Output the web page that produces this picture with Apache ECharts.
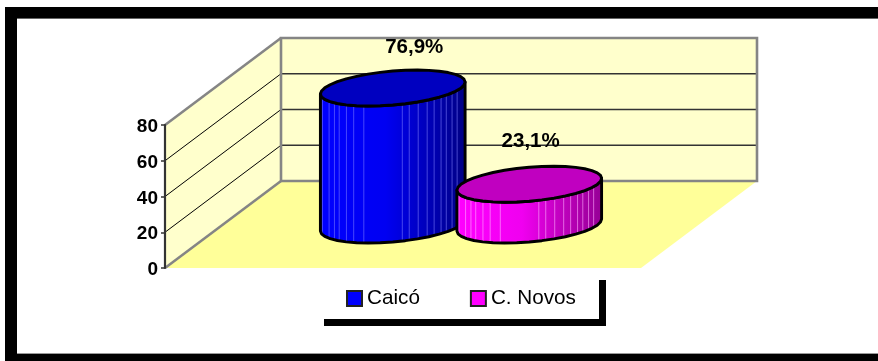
<!DOCTYPE html>
<html>
<head>
<meta charset="utf-8">
<style>html,body{margin:0;padding:0;background:#fff}#c{width:878px;height:361px}</style>
<script src="https://cdn.jsdelivr.net/npm/echarts@6/dist/echarts.min.js"></script>
</head>
<body>
<div id="c"></div>
<script>
var categories = ['Total'];
var seriesNames = ['Caicó', 'C. Novos'];
var caicoValues = [76.9];
var novosValues = [23.1];
var valueLabels = ['76,9%', '23,1%'];
var yTicks = [0, 20, 40, 60, 80];
var facetLines = [0.014,0.06,0.097,0.13,0.18,0.23,0.30,0.566,0.614,0.676,0.738,0.786,0.834,0.87,0.91,0.945];

var FONT = '"Liberation Sans", Arial, sans-serif';
var DX = 116, DY = -87;                // wall depth in pixels
var RX = 68.25, SHEAR = 24, RY = 18;   // cylinder cross-section
var looks = [
  {side: ['#0000FF','#0000F2','#0000BE','#000085'], top: '#0000C0', line: 'rgba(130,130,255,0.55)', off: -68.25, lx: 21.5, ly: -40.5},
  {side: ['#FF00FF','#F000F0','#C000BE','#960096'], top: '#C000C0', line: 'rgba(255,170,255,0.6)', off: 68.25, lx: 1.4, ly: -43}
];

function poly(points, style) { return {type: 'polygon', shape: {points: points}, style: style}; }
function line(a, b, stroke, w) {
  return {type: 'line', shape: {x1: a[0], y1: a[1], x2: b[0], y2: b[1]}, style: {stroke: stroke, lineWidth: w}};
}

function renderWalls(params, api) {
  var g = params.coordSys;
  var l = g.x, r = g.x + g.width, t = g.y, b = g.y + g.height;
  var kids = [
    poly([[l,b],[l+DX,b+DY],[r+DX,b+DY],[r,b]], {fill: '#FFFF99'}),
    poly([[l,b],[l,t],[l+DX,t+DY],[l+DX,b+DY]], {fill: '#FFFFCC'}),
    poly([[l+DX,t+DY],[r+DX,t+DY],[r+DX,b+DY],[l+DX,b+DY]], {fill: '#FFFFCC'})
  ];
  yTicks.slice(1, -1).forEach(function (v) {
    var y = api.coord([0, v])[1];
    kids.push(line([l, y], [l+DX, y+DY], '#000', 1));
    kids.push(line([l+DX, y+DY], [r+DX, y+DY], '#333', 1.3));
  });
  var gray = '#858585';
  kids.push(poly([[l+DX,t+DY],[r+DX,t+DY],[r+DX,b+DY],[l+DX,b+DY]], {fill: 'none', stroke: gray, lineWidth: 2.6}));
  kids.push(line([l,t], [l+DX,t+DY], gray, 2.6));
  kids.push(line([l,b], [l+DX,b+DY], gray, 2.6));
  return {type: 'group', children: kids};
}

function ringPoint(cx, cy, t) {
  return [cx + RX * Math.cos(t) + SHEAR * Math.sin(t), cy - RY * Math.sin(t)];
}

function makeCylinder(idx) {
  var look = looks[idx];
  return function (params, api) {
    var base = api.coord([0, 0]);
    var top = api.coord([0, api.value(1)]);
    var cx = base[0] + look.off + DX / 2;
    var yb = base[1] + DY / 2 + 0.5, yt = top[1] + DY / 2 + 1;
    var phi = Math.atan2(SHEAR, RX);
    var n = 18, i;
    var upper = [], lower = [], rim = [];
    for (i = 0; i <= n; i++) {
      var t = phi + Math.PI + Math.PI * i / n;
      upper.push(ringPoint(cx, yt, t));
      lower.push(ringPoint(cx, yb, t));
    }
    for (i = 0; i < 2 * n; i++) rim.push(ringPoint(cx, yt, phi + Math.PI * i / n));
    var body = upper.concat(lower.slice().reverse());
    var kids = [poly(body, {
      fill: new echarts.graphic.LinearGradient(0, 0, 1, 0, [
        {offset: 0, color: look.side[0]},
        {offset: 0.45, color: look.side[1]},
        {offset: 0.72, color: look.side[2]},
        {offset: 1, color: look.side[3]}
      ])
    })];
    facetLines.forEach(function (f) {
      var t = phi + 2 * Math.PI - Math.acos(2 * f - 1);
      kids.push(line(ringPoint(cx, yt, t), ringPoint(cx, yb, t), look.line, 1));
    });
    kids.push(poly(body, {fill: 'none', stroke: '#000', lineWidth: 2.9, lineJoin: 'round'}));
    kids.push(poly(rim, {fill: look.top, stroke: '#000', lineWidth: 2.9, lineJoin: 'round'}));
    kids.push({type: 'text', style: {
      text: valueLabels[idx], x: cx + look.lx, y: yt + look.ly,
      align: 'center', verticalAlign: 'middle',
      fontFamily: FONT, fontWeight: 'bold', fontSize: 20.5, fill: '#000'
    }});
    return {type: 'group', children: kids};
  };
}

var chart = echarts.init(document.getElementById('c'), null, {renderer: 'canvas'});
chart.setOption({
  animation: false,
  backgroundColor: '#fff',
  grid: {left: 165, right: 237, top: 125, bottom: 93},
  xAxis: {type: 'category', data: categories, show: false},
  yAxis: {
    type: 'value', min: 0, max: 80, interval: 20, z: 5,
    axisLine: {show: true, lineStyle: {color: '#333', width: 2.2}},
    axisTick: {show: true, length: 4, lineStyle: {color: '#333', width: 1.5}},
    axisLabel: {
      margin: 7, formatter: '{a|{value}}',
      rich: {a: {fontFamily: FONT, fontWeight: 'bold', fontSize: 19, color: '#000', padding: [4, 0, 0, 0]}}
    },
    splitLine: {show: false}
  },
  legend: {
    show: true, left: 346, top: 288, itemWidth: 15, itemHeight: 15, itemGap: 50, selectedMode: false,
    icon: 'rect', padding: 0,
    textStyle: {fontFamily: FONT, fontSize: 20.7, color: '#000', padding: [0, 0, 0, 0]},
    data: [
      {name: seriesNames[0], itemStyle: {color: '#0000FF', borderColor: '#222', borderWidth: 2}},
      {name: seriesNames[1], itemStyle: {color: '#FF00FF', borderColor: '#222', borderWidth: 2}}
    ]
  },
  series: [
    {type: 'custom', name: 'walls', silent: true, z: 1, data: [[0, 0]], encode: {x: 0, y: 1}, renderItem: renderWalls},
    {type: 'custom', name: seriesNames[0], z: 2, itemStyle: {color: '#0000FF'},
      data: categories.map(function (c, i) { return [i, caicoValues[i]]; }), encode: {x: 0, y: 1}, renderItem: makeCylinder(0)},
    {type: 'custom', name: seriesNames[1], z: 3, itemStyle: {color: '#FF00FF'},
      data: categories.map(function (c, i) { return [i, novosValues[i]]; }), encode: {x: 0, y: 1}, renderItem: makeCylinder(1)}
  ],
  graphic: [
    {type: 'rect', shape: {x: 5, y: 7, width: 873, height: 11}, style: {fill: '#000'}},
    {type: 'rect', shape: {x: 17, y: 18, width: 861, height: 1}, style: {fill: '#666'}},
    {type: 'rect', shape: {x: 5, y: 7, width: 12, height: 354}, style: {fill: '#000'}},
    {type: 'rect', shape: {x: 17, y: 353, width: 861, height: 1}, style: {fill: '#999'}},
    {type: 'rect', shape: {x: 5, y: 354, width: 873, height: 7}, style: {fill: '#000'}},
    {type: 'rect', shape: {x: 599, y: 280, width: 7, height: 46}, style: {fill: '#000'}},
    {type: 'rect', shape: {x: 324, y: 319, width: 282, height: 7}, style: {fill: '#000'}}
  ]
});
</script>
</body>
</html>
